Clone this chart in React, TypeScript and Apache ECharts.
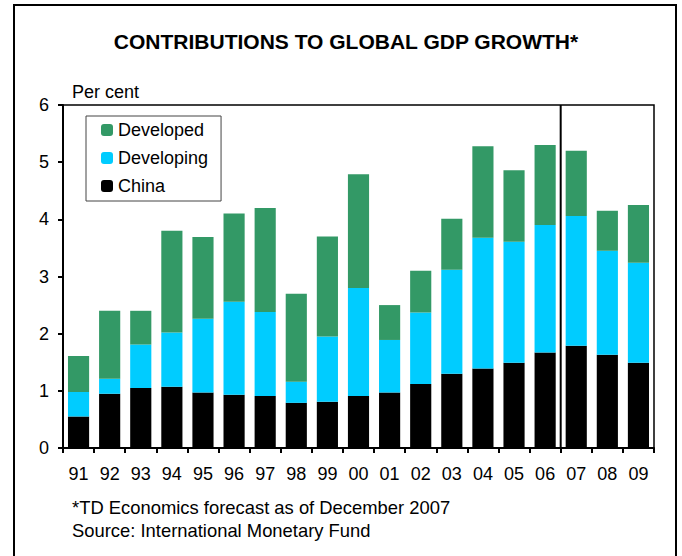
import React, { useEffect, useRef } from "react";
import * as echarts from "echarts";

const years = ["91","92","93","94","95","96","97","98","99","00","01","02","03","04","05","06","07","08","09"];
const china = [0.55,0.95,1.05,1.07,0.97,0.93,0.91,0.79,0.81,0.91,0.97,1.12,1.30,1.39,1.49,1.67,1.79,1.63,1.49];
const developing = [0.43,0.26,0.76,0.95,1.29,1.63,1.47,0.37,1.14,1.89,0.92,1.25,1.82,2.29,2.12,2.23,2.27,1.82,1.75];
const developed = [0.63,1.19,0.59,1.78,1.43,1.54,1.82,1.54,1.75,1.99,0.61,0.73,0.89,1.60,1.25,1.40,1.14,0.70,1.01];
// forecast divider: boundary before category index 16 ("07"), spanning the y range
const forecastDivider = [[16, 0], [16, 6]];

const FONT = "Liberation Sans, Arial, sans-serif";

export default function App() {
  const ref = useRef<HTMLDivElement>(null);
  useEffect(() => {
    if (!ref.current) return;
    const chart = echarts.init(ref.current, undefined, { renderer: "svg" });
    chart.setOption({
      animation: false,
      textStyle: { fontFamily: FONT, color: "#000" },
      legend: {
        data: ["Developed", "Developing", "China"],
        orient: "vertical",
        left: 86,
        top: 116,
        itemWidth: 12,
        itemHeight: 12,
        itemGap: 10,
        padding: [5, 13, 6, 15],
        borderColor: "#444",
        borderWidth: 1,
        textStyle: { fontFamily: FONT, fontSize: 18, color: "#000" },
      },
      grid: {
        left: 63,
        top: 105,
        right: 28,
        bottom: 108,
        show: true,
        borderColor: "#000",
        borderWidth: 1.5,
        backgroundColor: "transparent",
      },
      xAxis: [
        {
          type: "category",
          data: years,
          axisLine: { lineStyle: { color: "#000", width: 2 } },
          axisTick: { show: true, length: 5, lineStyle: { color: "#000", width: 2 } },
          axisLabel: { fontFamily: FONT, fontSize: 18, color: "#000", margin: 17 },
          splitLine: { show: false },
        },
        {
          type: "value",
          min: 0,
          max: years.length,
          show: false,
          splitLine: { show: false },
        },
      ],
      yAxis: {
        type: "value",
        min: 0,
        max: 6,
        interval: 1,
        axisLine: { show: true, lineStyle: { color: "#000", width: 2 } },
        axisTick: { show: true, length: 5, lineStyle: { color: "#000", width: 2 } },
        axisLabel: { fontFamily: FONT, fontSize: 18, color: "#000", margin: 14 },
        splitLine: { show: false },
      },
      series: [
        {
          name: "China",
          type: "bar",
          stack: "gdp",
          data: china,
          barCategoryGap: "32%",
          itemStyle: { color: "#000000" },
        },
        {
          name: "Developing",
          type: "bar",
          stack: "gdp",
          data: developing,
          itemStyle: { color: "#00CCFF" },
        },
        {
          name: "Developed",
          type: "bar",
          stack: "gdp",
          data: developed,
          itemStyle: { color: "#339966" },
        },
        {
          name: "divider",
          type: "line",
          xAxisIndex: 1,
          data: forecastDivider,
          symbol: "none",
          silent: true,
          lineStyle: { color: "#000", width: 2 },
          z: 5,
        },
      ],
      graphic: [
        {
          type: "rect",
          shape: { x: 14, y: 5, width: 662, height: 570 },
          style: { fill: "none", stroke: "#000", lineWidth: 2 },
          silent: true,
        },
        {
          type: "text",
          x: 346,
          y: 41,
          style: {
            text: "CONTRIBUTIONS TO GLOBAL GDP GROWTH*",
            font: `bold 21px ${FONT}`,
            fill: "#000",
            align: "center",
            verticalAlign: "middle",
          },
        },
        {
          type: "text",
          x: 72,
          y: 92,
          style: { text: "Per cent", font: `18px ${FONT}`, fill: "#000", verticalAlign: "middle" },
        },
        {
          type: "text",
          x: 72,
          y: 507,
          style: { text: "*TD Economics forecast as of December 2007", font: `18.4px ${FONT}`, fill: "#000", verticalAlign: "middle" },
        },
        {
          type: "text",
          x: 72,
          y: 530,
          style: { text: "Source: International Monetary Fund", font: `18.4px ${FONT}`, fill: "#000", verticalAlign: "middle" },
        },
      ],
    });
    return () => chart.dispose();
  }, []);
  return <div ref={ref} style={{ width: 682, height: 556, position: "absolute", left: 0, top: 0, background: "#fff" }} />;
}
